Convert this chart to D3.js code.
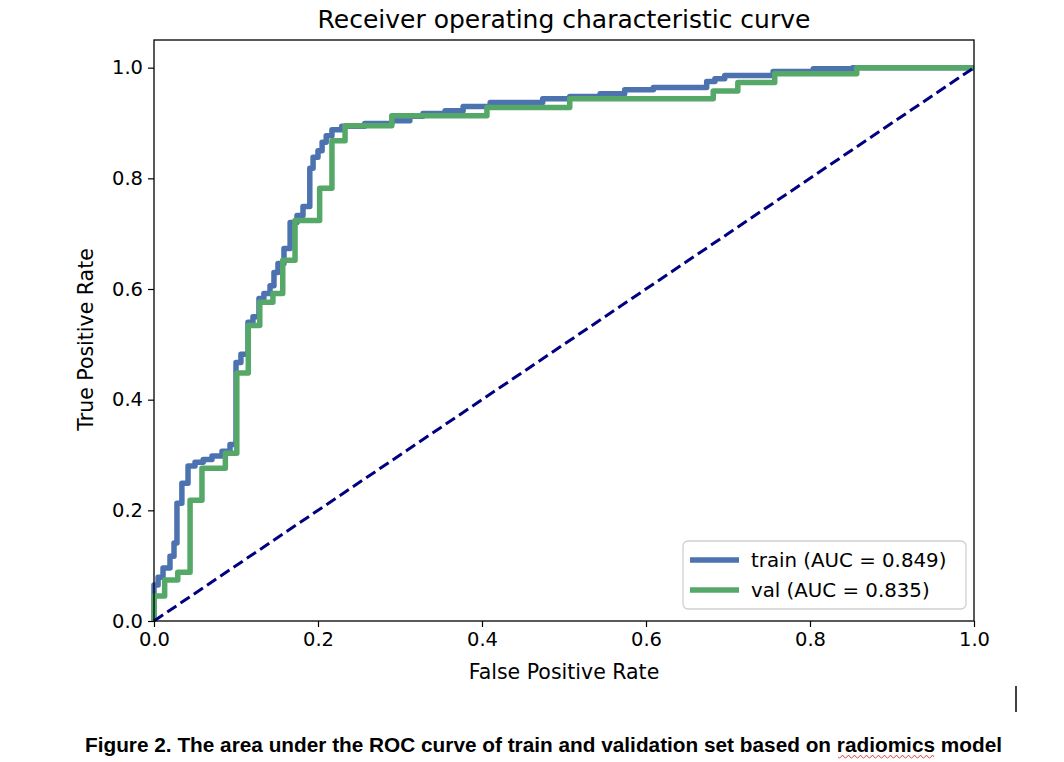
<!DOCTYPE html>
<html><head><meta charset="utf-8">
<script src="https://cdn.jsdelivr.net/npm/d3@7"></script>
<style>body{margin:0;background:#fff;} svg{display:block;}</style>
</head><body>
<svg id="chart" width="1064" height="762"></svg>
<script>
// ROC step knots (fpr, tpr)
const trainFpr = [0,0,0.005,0.011,0.0195,0.0244,0.028,0.034,0.0415,0.05,0.06,0.0707,0.083,0.0927,0.1,0.106,0.1146,0.1207,0.128,0.134,0.1415,0.1463,0.1512,0.1585,0.166,0.1744,0.1817,0.19,0.194,0.2,0.205,0.21,0.217,0.229,0.257,0.29,0.312,0.328,0.355,0.377,0.41,0.474,0.507,0.544,0.574,0.609,0.674,0.684,0.696,0.755,0.804,0.852,1];
const trainTpr = [0,0.065,0.079,0.096,0.117,0.141,0.213,0.249,0.28,0.287,0.292,0.298,0.307,0.319,0.467,0.482,0.54,0.55,0.583,0.592,0.606,0.63,0.646,0.673,0.72,0.733,0.749,0.818,0.838,0.85,0.865,0.877,0.888,0.894,0.899,0.904,0.912,0.917,0.922,0.93,0.937,0.944,0.948,0.953,0.96,0.964,0.975,0.98,0.986,0.993,0.998,1,1];
const valFpr = [0,0,0.013,0.029,0.044,0.0585,0.087,0.101,0.115,0.129,0.145,0.157,0.172,0.202,0.217,0.233,0.290,0.406,0.507,0.682,0.712,0.757,0.857,1];
const valTpr = [0,0.045,0.074,0.088,0.218,0.276,0.303,0.448,0.534,0.576,0.592,0.652,0.724,0.782,0.868,0.895,0.913,0.928,0.944,0.958,0.973,0.989,1,1];
const chanceX = [0,1];
const chanceY = [0,1];
const xTicks = [0,0.2,0.4,0.6,0.8,1.0];
const yTicks = [0,0.2,0.4,0.6,0.8,1.0];
const seriesNames = ["train (AUC = 0.849)","val (AUC = 0.835)"];
const seriesColors = ["#4c72b0","#55a868"];
const titleText = "Receiver operating characteristic curve";
const xLabel = "False Positive Rate";
const yLabel = "True Positive Rate";
const caption = "Figure 2. The area under the ROC curve of train and validation set based on radiomics model";

const svg = d3.select("#chart");
const L = 154, R = 974, T = 40, B = 621;
const x = d3.scaleLinear().domain([0,1]).range([L,R]);
const y = d3.scaleLinear().domain([0,1.05]).range([B,T]);
const font = "'DejaVu Sans', sans-serif";

// curves
const stepLine = d3.line().x(d=>x(d[0])).y(d=>y(d[1])).curve(d3.curveStepAfter);
const series = [d3.zip(trainFpr, trainTpr), d3.zip(valFpr, valTpr)];
series.forEach((pts,i)=>{
  svg.append("path").attr("d", stepLine(pts)).attr("fill","none")
    .attr("stroke", seriesColors[i]).attr("stroke-width",5.5).attr("stroke-linejoin","round").attr("stroke-linecap","butt");
});
// chance diagonal
svg.append("path").attr("d", d3.line().x(d=>x(d[0])).y(d=>y(d[1]))(d3.zip(chanceX, chanceY)))
  .attr("fill","none").attr("stroke","#000080").attr("stroke-width",3).attr("stroke-dasharray","11,5");

// frame
svg.append("rect").attr("x",L).attr("y",T).attr("width",R-L).attr("height",B-T)
  .attr("fill","none").attr("stroke","#000").attr("stroke-width",1.3);

// axes
const fmt = d3.format(".1f");
const xa = svg.append("g").attr("transform",`translate(0,${B})`)
  .call(d3.axisBottom(x).tickValues(xTicks).tickFormat(fmt).tickSize(6).tickPadding(5));
const ya = svg.append("g").attr("transform",`translate(${L},0)`)
  .call(d3.axisLeft(y).tickValues(yTicks).tickFormat(fmt).tickSize(6).tickPadding(5));
[xa,ya].forEach(g=>{
  g.select(".domain").remove();
  g.selectAll("line").attr("stroke","#000").attr("stroke-width",1.2);
  g.selectAll("text").attr("font-family",font).attr("font-size",19.5).attr("fill","#000");
});

// title and labels
svg.append("text").attr("x",(L+R)/2).attr("y",28).attr("text-anchor","middle")
  .attr("font-family",font).attr("font-size",25).text(titleText);
svg.append("text").attr("x",(L+R)/2).attr("y",679).attr("text-anchor","middle")
  .attr("font-family",font).attr("font-size",20.5).text(xLabel);
svg.append("text").attr("transform",`translate(93,${(T+B)/2+9}) rotate(-90)`).attr("text-anchor","middle")
  .attr("font-family",font).attr("font-size",20.5).text(yLabel);

// legend
const lg = svg.append("g");
lg.append("rect").attr("x",683).attr("y",541).attr("width",283).attr("height",68).attr("rx",5)
  .attr("fill","#fff").attr("stroke","#d0d0d0").attr("stroke-width",1.3);
seriesNames.forEach((n,i)=>{
  const yy = 560 + i*30;
  lg.append("line").attr("x1",690).attr("x2",739).attr("y1",yy).attr("y2",yy)
    .attr("stroke",seriesColors[i]).attr("stroke-width",5.5);
  lg.append("text").attr("x",751).attr("y",yy+7).attr("font-family",font).attr("font-size",19.8).text(n);
});

// caption
svg.append("text").attr("x",85).attr("y",752).attr("font-family","'Liberation Sans', Arial, sans-serif")
  .attr("font-weight","bold").attr("font-size",19.5).attr("textLength",917).attr("lengthAdjust","spacingAndGlyphs")
  .text(caption);
// spell-check squiggle under "radiomics" and text cursor
let sq = "M838,757";
for (let xx=838; xx<932; xx+=3) sq += ` L${xx+1.5},${(xx/3)%2<1?755:758} L${xx+3},757`;
svg.append("path").attr("d",sq).attr("fill","none").attr("stroke","#d03030").attr("stroke-width",0.8);
svg.append("line").attr("x1",1016).attr("x2",1016).attr("y1",686).attr("y2",712).attr("stroke","#000").attr("stroke-width",1.5);
</script>
</body></html>
